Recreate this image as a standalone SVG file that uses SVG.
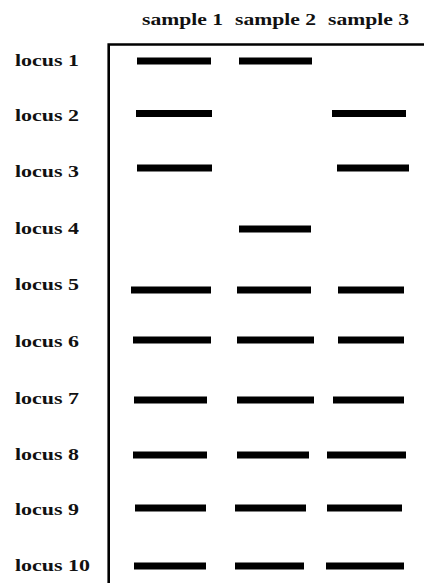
<svg xmlns="http://www.w3.org/2000/svg" width="424" height="583" viewBox="0 0 424 583">
<style>
  .lbl { font-family: "Liberation Serif", "Times New Roman", serif; font-weight: bold; font-size: 17px; fill: #111; }
  .hdr { font-family: "Liberation Serif", "Times New Roman", serif; font-weight: bold; font-size: 17px; fill: #111; }
  .bar { fill: #000; }
  .frame { fill: none; stroke: #000; stroke-width: 2.6; }
</style>
<rect width="424" height="583" fill="#fff"/>
<g id="headers">
  <text class="hdr" x="142" y="25" textLength="81" lengthAdjust="spacingAndGlyphs">sample 1</text>
  <text class="hdr" x="235" y="25" textLength="81" lengthAdjust="spacingAndGlyphs">sample 2</text>
  <text class="hdr" x="328" y="25" textLength="81" lengthAdjust="spacingAndGlyphs">sample 3</text>
</g>
<g id="frame">
  <path class="frame" d="M108.7 583 V44.5 H424"/>
</g>
<g id="locus1">
  <text class="lbl" x="15" y="66" textLength="64" lengthAdjust="spacingAndGlyphs">locus 1</text>
  <rect class="bar" x="137" y="57.5" width="74" height="7"/>
  <rect class="bar" x="239" y="57.5" width="73" height="7"/>
</g>
<g id="locus2">
  <text class="lbl" x="15" y="121" textLength="64" lengthAdjust="spacingAndGlyphs">locus 2</text>
  <rect class="bar" x="136" y="110" width="76" height="7"/>
  <rect class="bar" x="332" y="110" width="74" height="7"/>
</g>
<g id="locus3">
  <text class="lbl" x="15" y="177" textLength="64" lengthAdjust="spacingAndGlyphs">locus 3</text>
  <rect class="bar" x="137" y="164.5" width="75" height="7"/>
  <rect class="bar" x="337" y="164.5" width="72" height="7"/>
</g>
<g id="locus4">
  <text class="lbl" x="15" y="234" textLength="64" lengthAdjust="spacingAndGlyphs">locus 4</text>
  <rect class="bar" x="239" y="225.5" width="72" height="7"/>
</g>
<g id="locus5">
  <text class="lbl" x="15" y="290" textLength="64" lengthAdjust="spacingAndGlyphs">locus 5</text>
  <rect class="bar" x="131" y="286.5" width="80" height="7"/>
  <rect class="bar" x="237" y="286.5" width="74" height="7"/>
  <rect class="bar" x="338" y="286.5" width="66" height="7"/>
</g>
<g id="locus6">
  <text class="lbl" x="15" y="347" textLength="64" lengthAdjust="spacingAndGlyphs">locus 6</text>
  <rect class="bar" x="133" y="336.5" width="78" height="7"/>
  <rect class="bar" x="237" y="336.5" width="77" height="7"/>
  <rect class="bar" x="338" y="336.5" width="66" height="7"/>
</g>
<g id="locus7">
  <text class="lbl" x="15" y="404" textLength="64" lengthAdjust="spacingAndGlyphs">locus 7</text>
  <rect class="bar" x="134" y="396.5" width="73" height="7"/>
  <rect class="bar" x="237" y="396.5" width="77" height="7"/>
  <rect class="bar" x="333" y="396.5" width="71" height="7"/>
</g>
<g id="locus8">
  <text class="lbl" x="15" y="460" textLength="64" lengthAdjust="spacingAndGlyphs">locus 8</text>
  <rect class="bar" x="133" y="451.5" width="74" height="7"/>
  <rect class="bar" x="237" y="451.5" width="72" height="7"/>
  <rect class="bar" x="327" y="451.5" width="79" height="7"/>
</g>
<g id="locus9">
  <text class="lbl" x="15" y="515" textLength="64" lengthAdjust="spacingAndGlyphs">locus 9</text>
  <rect class="bar" x="135" y="504.5" width="71" height="7"/>
  <rect class="bar" x="235" y="504.5" width="71" height="7"/>
  <rect class="bar" x="327" y="504.5" width="75" height="7"/>
</g>
<g id="locus10">
  <text class="lbl" x="15" y="571" textLength="75" lengthAdjust="spacingAndGlyphs">locus 10</text>
  <rect class="bar" x="134" y="562.5" width="72" height="7"/>
  <rect class="bar" x="235" y="562.5" width="69" height="7"/>
  <rect class="bar" x="326" y="562.5" width="78" height="7"/>
</g>
<g id="connectors"></g>
</svg>
